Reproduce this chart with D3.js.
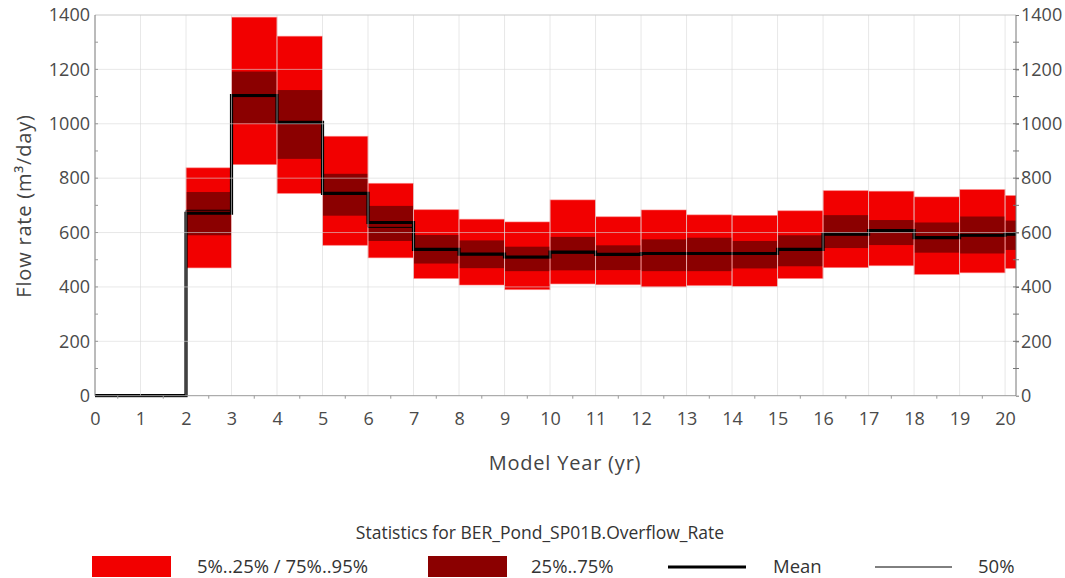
<!DOCTYPE html>
<html><head><meta charset="utf-8">
<script src="https://cdn.jsdelivr.net/npm/d3@7"></script>
<style>
body{margin:0;background:#fff;}
svg{display:block;font-family:"Open Sans",sans-serif;}
</style></head><body>
<svg id="c" width="1065" height="578"></svg>
<script>
const years  = [0,1,2,3,4,5,6,7,8,9,10,11,12,13,14,15,16,17,18,19,20];
const p95    = [0,0,838,1392,1322,954,781,684,649,639,720,658,683,665,663,680,754,752,731,758,736];
const p75    = [0,0,749,1192,1124,816,698,591,571,548,584,553,575,581,569,590,664,646,637,659,644];
const meanV  = [0,0,671,1104,1005,744,637,538,521,510,528,520,523,523,523,538,594,607,581,590,594];
const median = [0,0,682,1100,1003,740,619,535,519,507,525,517,521,521,521,535,592,604,585,588,592];
const p25    = [0,0,590,1001,871,662,569,486,469,458,461,462,458,458,468,476,543,554,526,523,536];
const p5     = [0,0,470,850,744,553,507,431,407,390,411,408,400,405,402,431,471,478,446,452,468];
const xTicks = [0,1,2,3,4,5,6,7,8,9,10,11,12,13,14,15,16,17,18,19,20];
const yTicks = [0,200,400,600,800,1000,1200,1400];

const svg = d3.select("#c");
const L = 95, R = 1016, T = 15, B = 395.7;
const x = d3.scaleLinear().domain([0, 20.24]).range([L, R]);
const y = d3.scaleLinear().domain([0, 1400]).range([B, T]);

svg.append("defs").append("clipPath").attr("id","clip")
  .append("rect").attr("x",L).attr("y",T-2).attr("width",R-L).attr("height",B-T+4);

const data = years.map((t,i)=>({t, p5:p5[i], p25:p25[i], p75:p75[i], p95:p95[i], mean:meanV[i], med:median[i]}));
const g = svg.append("g").attr("clip-path","url(#clip)");

const red = "#f20000", dark = "#8b0000";
const bars = data.filter(d => d.p95 > 0);
g.selectAll("rect.outer").data(bars).join("rect")
  .attr("x", d=>x(d.t)).attr("width", d=>x(d.t+1)-x(d.t))
  .attr("y", d=>y(d.p95)).attr("height", d=>y(d.p5)-y(d.p95))
  .attr("fill", red).attr("stroke","#ff8080").attr("stroke-width",0.8).attr("stroke-opacity",0.7);
g.selectAll("rect.inner").data(bars).join("rect")
  .attr("x", d=>x(d.t)+0.5).attr("width", d=>x(d.t+1)-x(d.t)-1)
  .attr("y", d=>y(d.p75)).attr("height", d=>y(d.p25)-y(d.p75))
  .attr("fill", dark);

const grid = svg.append("g");
grid.selectAll("line.gx").data(xTicks.filter(v=>v>0)).join("line")
  .attr("x1",d=>x(d)).attr("x2",d=>x(d)).attr("y1",T).attr("y2",B)
  .attr("stroke","#d8d8d8").attr("stroke-opacity",0.6).attr("stroke-width",1);
grid.selectAll("line.gy").data(yTicks.filter(v=>v>0 && v<1400)).join("line")
  .attr("x1",L).attr("x2",R).attr("y1",d=>y(d)).attr("y2",d=>y(d))
  .attr("stroke","#d8d8d8").attr("stroke-opacity",0.6).attr("stroke-width",1);

const stepData = key => data.map(d=>[d.t, d[key]]).concat([[21, data[data.length-1][key]]]);
const line = d3.line().x(d=>x(d[0])).y(d=>y(d[1])).curve(d3.curveStepAfter);
g.append("path").attr("d", line(stepData("mean"))).attr("fill","none")
  .attr("stroke","#000").attr("stroke-width",3.2);
g.append("path").attr("d", line(stepData("med"))).attr("fill","none")
  .attr("stroke","#000").attr("stroke-width",1);

svg.append("line").attr("x1",L).attr("x2",R).attr("y1",T).attr("y2",T).attr("stroke","#c8c8c8");
svg.append("line").attr("x1",L).attr("x2",R).attr("y1",B).attr("y2",B).attr("stroke","#999");
svg.append("line").attr("x1",L).attr("x2",L).attr("y1",T).attr("y2",B).attr("stroke","#777");
svg.append("line").attr("x1",R).attr("x2",R).attr("y1",T).attr("y2",B).attr("stroke","#777");

const tickColor = "#4a4a4a";
const tf = d3.format("d");
const xAxis = svg.append("g").attr("transform",`translate(0,${B})`)
  .call(d3.axisBottom(x).tickValues(xTicks).tickFormat(tf).tickSize(0).tickPadding(17));
xAxis.select(".domain").remove();
xAxis.selectAll("text").attr("fill",tickColor).style("font-size","18px").style("font-family","'Open Sans',sans-serif");
svg.append("g").selectAll("line").data(d3.range(0.5,20.24,1)).join("line")
  .attr("x1",d=>x(d)).attr("x2",d=>x(d)).attr("y1",B).attr("y2",B+3).attr("stroke","#999");

const yl = svg.append("g").attr("transform",`translate(${L},0)`)
  .call(d3.axisLeft(y).tickValues(yTicks).tickFormat(tf).tickSize(0).tickPadding(5));
yl.select(".domain").remove();
yl.selectAll("text").attr("fill",tickColor).style("font-size","18px").style("font-family","'Open Sans',sans-serif");
svg.append("g").selectAll("line").data(d3.range(100,1400,100)).join("line")
  .attr("x1",L).attr("x2",L+3).attr("y1",d=>y(d)).attr("y2",d=>y(d)).attr("stroke","#999");
const yr = svg.append("g").attr("transform",`translate(${R},0)`)
  .call(d3.axisRight(y).tickValues(yTicks).tickFormat(tf).tickSize(3).tickPadding(2));
yr.select(".domain").remove();
yr.selectAll("line").attr("stroke","#777");
yr.selectAll("text").attr("fill",tickColor).style("font-size","18px").style("font-family","'Open Sans',sans-serif");
svg.append("g").selectAll("line").data(d3.range(100,1400,100)).join("line")
  .attr("x1",R-3).attr("x2",R+3).attr("y1",d=>y(d)).attr("y2",d=>y(d)).attr("stroke","#777");

svg.append("text").attr("x", 565).attr("y", 470).attr("text-anchor","middle")
  .attr("fill","#444").style("font-size","20px").style("letter-spacing","0.8px").text("Model Year (yr)");
svg.append("text").attr("transform","translate(31,206) rotate(-90)").attr("text-anchor","middle")
  .attr("fill","#444").style("font-size","20px").style("letter-spacing","0.8px").text("Flow rate (m³/day)");

svg.append("text").attr("x",540).attr("y",539).attr("text-anchor","middle")
  .attr("fill","#333").style("font-size","17.5px").text("Statistics for BER_Pond_SP01B.Overflow_Rate");
const leg = svg.append("g");
const ly = 572.5;
leg.append("rect").attr("x",92).attr("y",556).attr("width",79).attr("height",21).attr("fill",red);
leg.append("text").attr("x",197).attr("y",ly).attr("fill","#333").style("font-size","18.5px").text("5%..25% / 75%..95%");
leg.append("rect").attr("x",428).attr("y",556).attr("width",79).attr("height",21).attr("fill",dark);
leg.append("text").attr("x",531).attr("y",ly).attr("fill","#333").style("font-size","18.5px").text("25%..75%");
leg.append("line").attr("x1",668).attr("x2",746).attr("y1",567).attr("y2",567).attr("stroke","#000").attr("stroke-width",3);
leg.append("text").attr("x",773).attr("y",ly).attr("fill","#333").style("font-size","18.5px").text("Mean");
leg.append("line").attr("x1",875).attr("x2",952).attr("y1",567).attr("y2",567).attr("stroke","#000").attr("stroke-width",1);
leg.append("text").attr("x",978).attr("y",ly).attr("fill","#333").style("font-size","18.5px").text("50%");
</script></body></html>
